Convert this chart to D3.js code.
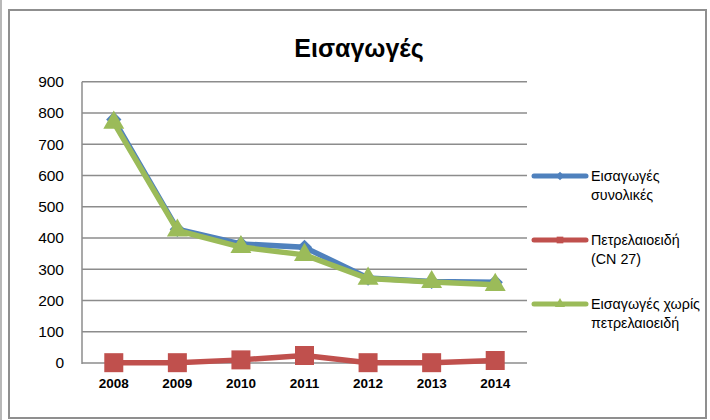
<!DOCTYPE html>
<html><head><meta charset="utf-8">
<script src="https://cdn.jsdelivr.net/npm/d3@7"></script>
<style>body{margin:0;background:#fff}svg{display:block}</style>
</head><body>
<svg id="c" width="710" height="420"></svg>
<script>
const title = "Εισαγωγές";
const years = ["2008","2009","2010","2011","2012","2013","2014"];
const totalImports = [779,428,381,370,272,261,258];
const petroleum = [1,1,10,24,1,1,8];
const withoutPetroleum = [769,424,371,346,270,259,250];
const yTicks = [0,100,200,300,400,500,600,700,800,900];
const seriesNames = [["Εισαγωγές","συνολικές"],["Πετρελαιοειδή","(CN 27)"],["Εισαγωγές χωρίς","πετρελαιοειδή"]];

const font = "'Liberation Sans', Arial, sans-serif";
const svg = d3.select("#c");
svg.append("line").attr("x1",1).attr("x2",1).attr("y1",0).attr("y2",420)
  .attr("stroke","#a0a0a0").attr("stroke-width",1.5);
svg.append("rect").attr("x",9).attr("y",10).attr("width",697).attr("height",408)
  .attr("fill","#fff").attr("stroke","#8f8f8f").attr("stroke-width",2);

const x = d3.scaleBand().domain(years).range([82,527]);
const y = d3.scaleLinear().domain([0,900]).range([363,81.7]);

// gridlines
svg.append("g").selectAll("line").data(yTicks).join("line")
  .attr("x1",82).attr("x2",527).attr("y1",d=>y(d)).attr("y2",d=>y(d))
  .attr("stroke","#8c8c8c").attr("stroke-width",1.5);
// y axis line
svg.append("line").attr("x1",82).attr("x2",82).attr("y1",y(900)).attr("y2",y(0)+1)
  .attr("stroke","#8c8c8c").attr("stroke-width",1.5);

const yAxis = d3.axisLeft(y).tickValues(yTicks).tickSize(0).tickPadding(18);
const ya = svg.append("g").attr("transform","translate(82,0)").call(yAxis);
ya.select(".domain").remove();
ya.selectAll("text").attr("font-family",font).attr("font-size",15.5).attr("fill","#000");

const xAxis = d3.axisBottom(x).tickSize(0).tickPadding(15);
const xa = svg.append("g").attr("transform",`translate(0,${y(0)})`).call(xAxis);
xa.select(".domain").remove();
xa.selectAll("text").attr("font-family",font).attr("font-size",13.5).attr("font-weight","bold").attr("fill","#000");

svg.append("text").attr("x",359).attr("y",57).attr("text-anchor","middle")
  .attr("font-family",font).attr("font-weight","bold").attr("font-size",25).text(title);

const cx = d => x(d)+x.bandwidth()/2;
const diamondType = d3.symbolDiamond2 || d3.symbolDiamond;
const series = [
  {vals: totalImports, color:"#4F81BD", marker:"diamond", size:150},
  {vals: petroleum, color:"#C0504D", marker:"square", size:361},
  {vals: withoutPetroleum, color:"#9BBB59", marker:"triangle", size:190}
];
const symType = {diamond:diamondType, square:d3.symbolSquare, triangle:d3.symbolTriangle};
const line = d3.line().x((d,i)=>cx(years[i])).y(d=>y(d));

series.forEach(s=>{
  const g = svg.append("g");
  g.append("path").datum(s.vals).attr("d",line).attr("fill","none")
    .attr("stroke",s.color).attr("stroke-width",5.5).attr("stroke-linejoin","round");
  g.selectAll("path.m").data(s.vals).join("path").attr("class","m")
    .attr("transform",(d,i)=>`translate(${cx(years[i])},${y(d)})`)
    .attr("d",d3.symbol().type(symType[s.marker]).size(s.size)).attr("fill",s.color);
});

// legend
const ly = [176,240,304];
series.forEach((s,i)=>{
  const g = svg.append("g").attr("transform",`translate(0,${ly[i]})`);
  g.append("line").attr("x1",534).attr("x2",586).attr("y1",0).attr("y2",0)
    .attr("stroke",s.color).attr("stroke-width",5).attr("stroke-linecap","round");
  g.append("path").attr("transform","translate(560,0)")
    .attr("d",d3.symbol().type(symType[s.marker]).size(45)).attr("fill",s.color);
  seriesNames[i].forEach((t,j)=>{
    g.append("text").attr("x",591).attr("y",5+j*19).attr("font-family",font)
      .attr("font-size",14.3).attr("fill","#000").text(t);
  });
});
</script>
</body></html>
